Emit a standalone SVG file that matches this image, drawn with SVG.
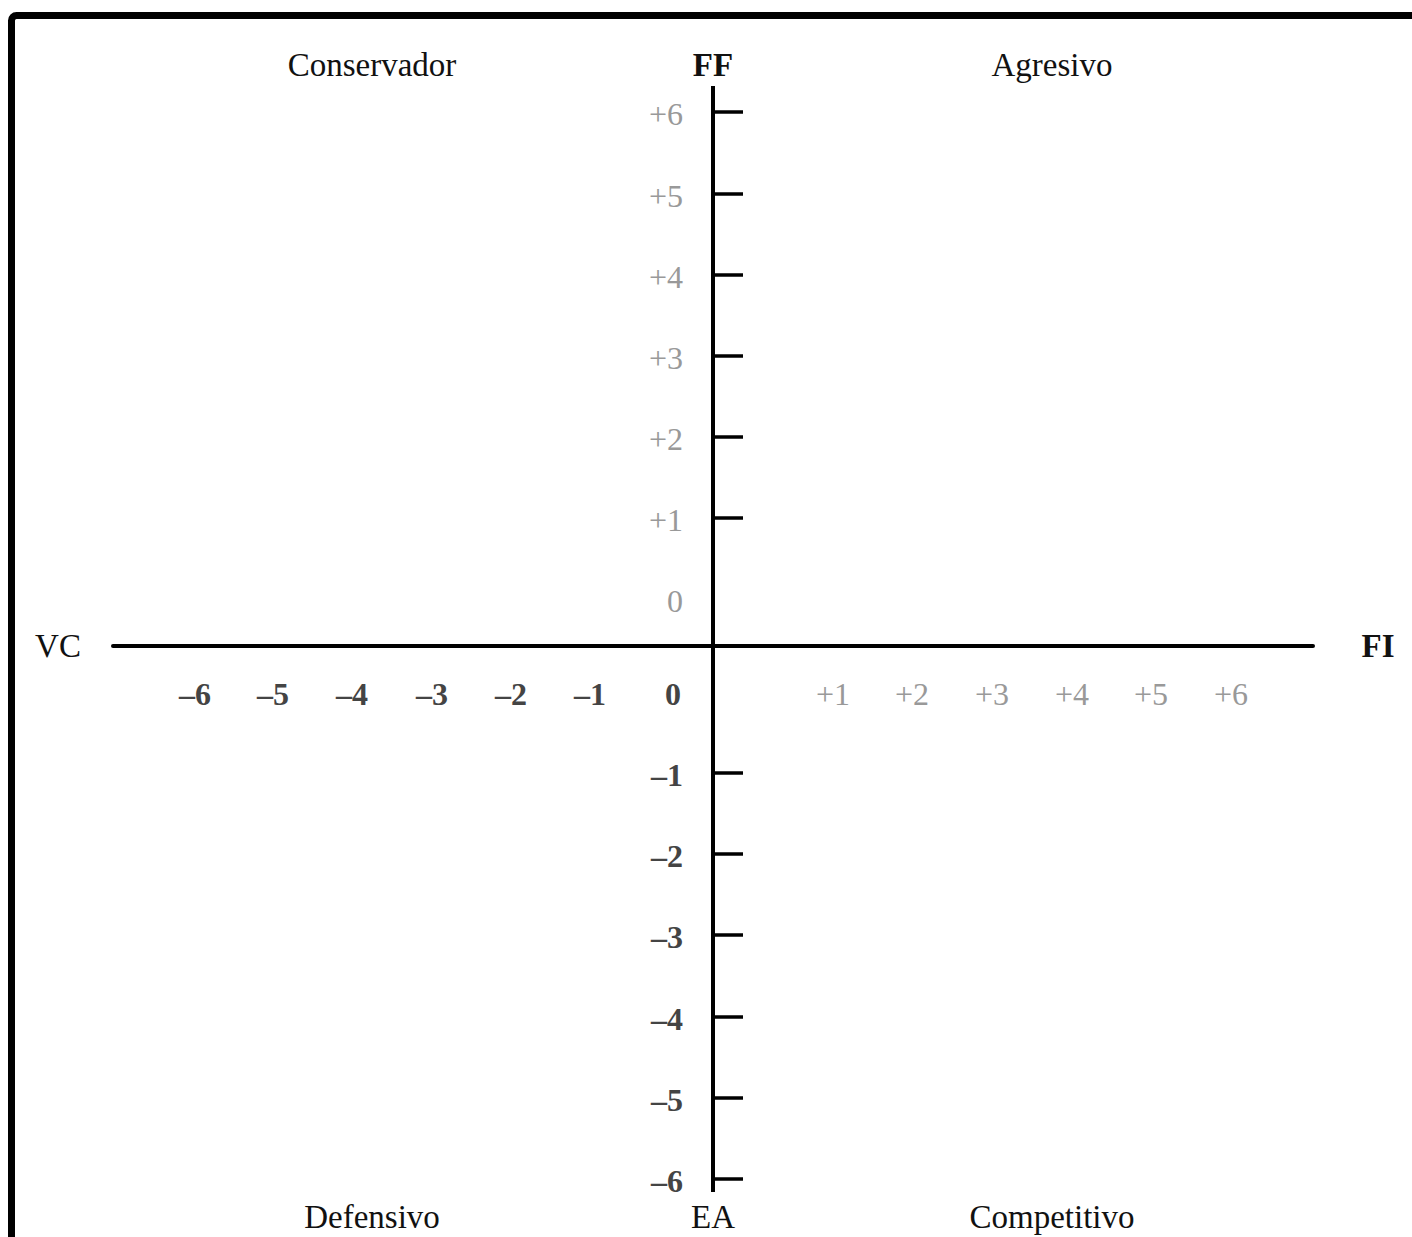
<svg xmlns="http://www.w3.org/2000/svg" width="1412" height="1237" viewBox="0 0 1412 1237">
<style>
text{font-family:"Liberation Serif","Times New Roman",serif}
.t{font-size:33px;fill:#111;text-anchor:middle}
.b{font-weight:bold}
.p{font-size:32px;fill:#999}
.n{font-size:32px;fill:#444;font-weight:bold}
.v{text-anchor:end}
.h{text-anchor:middle}
.ax{stroke:#000;stroke-width:4;fill:none}
.tk{stroke:#000;stroke-width:3.5}
</style>
<rect x="11.5" y="15.5" width="1500" height="1300" rx="5" fill="none" stroke="#000" stroke-width="7"/>
<g id="axes">
<line class="ax" x1="113" y1="646" x2="1313" y2="646" stroke-linecap="round"/>
<line class="ax" x1="713" y1="86" x2="713" y2="1192"/>
<g id="ticks">
<line class="tk" x1="713" y1="112" x2="743" y2="112"/>
<line class="tk" x1="713" y1="194" x2="743" y2="194"/>
<line class="tk" x1="713" y1="275" x2="743" y2="275"/>
<line class="tk" x1="713" y1="356" x2="743" y2="356"/>
<line class="tk" x1="713" y1="437" x2="743" y2="437"/>
<line class="tk" x1="713" y1="518" x2="743" y2="518"/>
<line class="tk" x1="713" y1="773" x2="743" y2="773"/>
<line class="tk" x1="713" y1="854" x2="743" y2="854"/>
<line class="tk" x1="713" y1="935" x2="743" y2="935"/>
<line class="tk" x1="713" y1="1017" x2="743" y2="1017"/>
<line class="tk" x1="713" y1="1098" x2="743" y2="1098"/>
<line class="tk" x1="713" y1="1179" x2="743" y2="1179"/>
</g>
</g>
<g id="quadrants">
<text class="t" x="372" y="76">Conservador</text>
<text class="t b" x="713" y="76">FF</text>
<text class="t" x="1052" y="76">Agresivo</text>
<text class="t" x="58" y="657">VC</text>
<text class="t b" x="1378" y="657">FI</text>
<text class="t" x="372" y="1228">Defensivo</text>
<text class="t" x="713" y="1228">EA</text>
<text class="t" x="1052" y="1228">Competitivo</text>
</g>
<g id="vlabels">
<text class="p v" x="683" y="125">+6</text>
<text class="p v" x="683" y="207">+5</text>
<text class="p v" x="683" y="288">+4</text>
<text class="p v" x="683" y="369">+3</text>
<text class="p v" x="683" y="450">+2</text>
<text class="p v" x="683" y="531">+1</text>
<text class="p v" x="683" y="612">0</text>
<text class="n v" x="683" y="786">–1</text>
<text class="n v" x="683" y="867">–2</text>
<text class="n v" x="683" y="948">–3</text>
<text class="n v" x="683" y="1030">–4</text>
<text class="n v" x="683" y="1111">–5</text>
<text class="n v" x="683" y="1192">–6</text>
</g>
<g id="hlabels">
<text class="n h" x="195" y="705">–6</text>
<text class="n h" x="273" y="705">–5</text>
<text class="n h" x="352" y="705">–4</text>
<text class="n h" x="432" y="705">–3</text>
<text class="n h" x="511" y="705">–2</text>
<text class="n h" x="590" y="705">–1</text>
<text class="n h" x="673" y="705">0</text>
<text class="p h" x="833" y="705">+1</text>
<text class="p h" x="912" y="705">+2</text>
<text class="p h" x="992" y="705">+3</text>
<text class="p h" x="1072" y="705">+4</text>
<text class="p h" x="1151" y="705">+5</text>
<text class="p h" x="1231" y="705">+6</text>
</g>
</svg>
